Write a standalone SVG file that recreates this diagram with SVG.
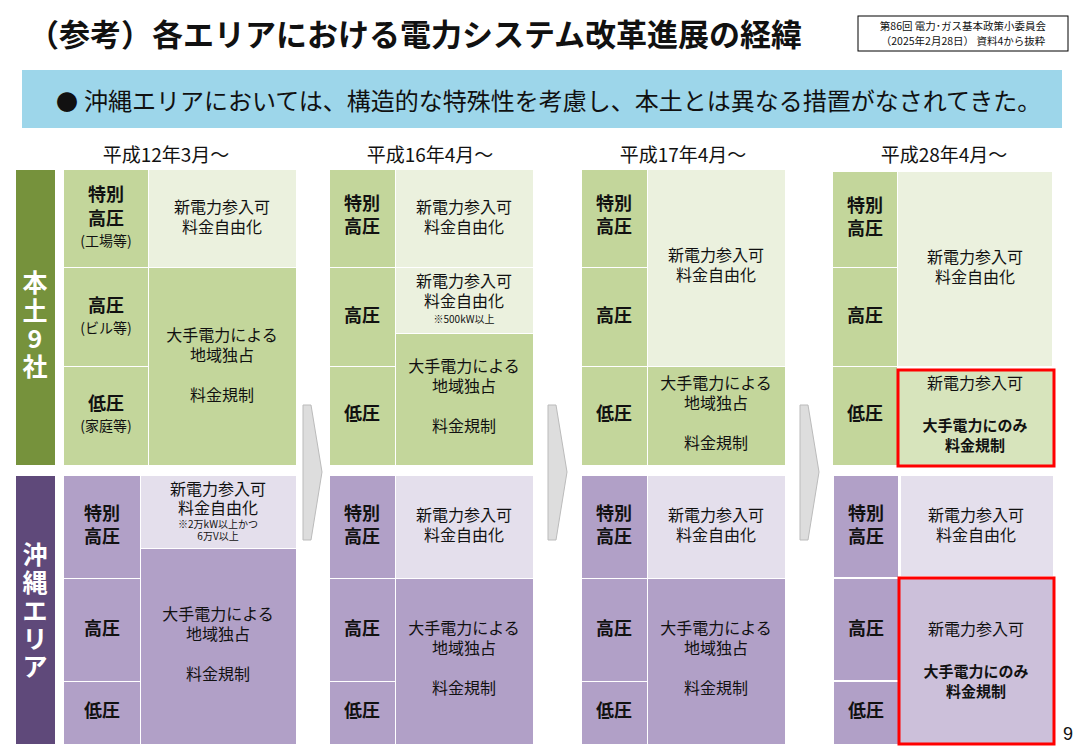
<svg xmlns="http://www.w3.org/2000/svg" width="1084" height="750" viewBox="0 0 1084 750">
<style>
text{font-family:"Noto Sans CJK JP","Noto Sans",sans-serif;fill:#111;text-anchor:middle}
.lb{font-size:18px;font-weight:bold}
.sm{font-size:14px}
.c{font-size:16px}
.n{font-size:10px}
.b{font-size:15px;font-weight:bold}
.hd{font-size:19px}
.gl{fill:#C3D69B}.ge{fill:#EBF1DE}.pl{fill:#B1A0C7}.pe{fill:#E4DFEC}
.side{font-size:25px;font-weight:bold;fill:#fff}
.chev{fill:#DDDDDD;stroke:#BBBBBB;stroke-width:1}
</style>
<rect width="1084" height="750" fill="#fff"/>
<text x="415" y="46" style="font-size:31px;font-weight:bold">（参考）各エリアにおける電力システム改革進展の経緯</text>
<g id="source"><rect x="858" y="16" width="210" height="35" fill="#fff" stroke="#000" stroke-width="1"/>
<text x="963" y="30" style="font-size:10.5px">第86回 電力･ガス基本政策小委員会</text>
<text x="963" y="45" style="font-size:10.5px">（2025年2月28日） 資料4から抜粋</text></g>
<g id="banner"><rect x="22" y="70" width="1040" height="58" fill="#9DD6EA"/>
<text x="56" y="110" style="font-size:22px;text-anchor:start">●</text>
<text x="84" y="110" style="font-size:24px;text-anchor:start">沖縄エリアにおいては、構造的な特殊性を考慮し、本土とは異なる措置がなされてきた。</text></g>
<g id="headers">
<text class="hd" x="166" y="162">平成12年3月～</text>
<text class="hd" x="430" y="162">平成16年4月～</text>
<text class="hd" x="683" y="162">平成17年4月～</text>
<text class="hd" x="944" y="162">平成28年4月～</text></g>
<g id="side-honshu"><rect x="16" y="170" width="39" height="295" fill="#76923C"/>
<text class="side" x="35" y="292">本</text><text class="side" x="35" y="320">土</text><text class="side" x="35" y="348">9</text><text class="side" x="35" y="376">社</text></g>
<g id="side-okinawa"><rect x="16" y="476" width="39" height="268" fill="#5F497A"/>
<text class="side" x="35" y="564">沖</text><text class="side" x="35" y="592">縄</text><text class="side" x="35" y="620">エ</text><text class="side" x="35" y="648">リ</text><text class="side" x="35" y="676">ア</text></g>
<g id="connectors">
<path class="chev" d="M303,405 L311,405 L322,472 L311,540 L303,540 Z"/>
<path class="chev" d="M548,405 L556,405 L567,472 L556,540 L548,540 Z"/>
<path class="chev" d="M800,405 L808,405 L819,472 L808,540 L800,540 Z"/>
</g>
<g id="col1">
<rect class="gl" x="64" y="170" width="84" height="97"/><rect class="ge" x="149" y="170" width="147" height="97"/>
<rect class="gl" x="64" y="268" width="84" height="98"/><rect class="gl" x="64" y="367" width="84" height="98"/>
<rect class="gl" x="149" y="268" width="147" height="197"/>
<text class="lb" x="106" y="201">特別</text><text class="lb" x="106" y="225">高圧</text><text class="sm" x="106" y="246">(工場等)</text>
<text class="c" x="222" y="213">新電力参入可</text><text class="c" x="222" y="233">料金自由化</text>
<text class="lb" x="106" y="312">高圧</text><text class="sm" x="106" y="333">(ビル等)</text>
<text class="lb" x="106" y="410">低圧</text><text class="sm" x="106" y="431">(家庭等)</text>
<text class="c" x="222" y="341">大手電力による</text><text class="c" x="222" y="361">地域独占</text><text class="c" x="222" y="401">料金規制</text>
<rect class="pl" x="64" y="476" width="76" height="102"/><rect class="pl" x="64" y="579" width="76" height="102"/><rect class="pl" x="64" y="682" width="76" height="62"/>
<rect class="pe" x="141" y="476" width="155" height="72"/><rect class="pl" x="141" y="549" width="155" height="195"/>
<text class="lb" x="102" y="520">特別</text><text class="lb" x="102" y="543">高圧</text>
<text class="c" x="218" y="495">新電力参入可</text><text class="c" x="218" y="514">料金自由化</text>
<text class="n" x="218" y="528">※2万kW以上かつ</text><text class="n" x="218" y="540">6万V以上</text>
<text class="lb" x="102" y="635">高圧</text><text class="lb" x="102" y="717">低圧</text>
<text class="c" x="218" y="620">大手電力による</text><text class="c" x="218" y="640">地域独占</text><text class="c" x="218" y="680">料金規制</text>
</g>
<g id="col2">
<rect class="gl" x="330" y="170" width="65" height="97"/><rect class="gl" x="330" y="268" width="65" height="98"/><rect class="gl" x="330" y="367" width="65" height="98"/>
<rect class="ge" x="396" y="170" width="137" height="97"/><rect class="ge" x="396" y="268" width="137" height="65"/><rect class="gl" x="396" y="334" width="137" height="131"/>
<text class="lb" x="362" y="210">特別</text><text class="lb" x="362" y="233">高圧</text>
<text class="c" x="464" y="213">新電力参入可</text><text class="c" x="464" y="233">料金自由化</text>
<text class="lb" x="362" y="322">高圧</text>
<text class="c" x="464" y="287">新電力参入可</text><text class="c" x="464" y="307">料金自由化</text><text class="n" x="464" y="323">※500kW以上</text>
<text class="lb" x="362" y="420">低圧</text>
<text class="c" x="464" y="372">大手電力による</text><text class="c" x="464" y="392">地域独占</text><text class="c" x="464" y="432">料金規制</text>
<rect class="pl" x="330" y="476" width="65" height="102"/><rect class="pl" x="330" y="579" width="65" height="102"/><rect class="pl" x="330" y="682" width="65" height="62"/>
<rect class="pe" x="396" y="476" width="137" height="102"/><rect class="pl" x="396" y="579" width="137" height="165"/>
<text class="lb" x="362" y="520">特別</text><text class="lb" x="362" y="543">高圧</text>
<text class="c" x="464" y="521">新電力参入可</text><text class="c" x="464" y="541">料金自由化</text>
<text class="lb" x="362" y="635">高圧</text><text class="lb" x="362" y="717">低圧</text>
<text class="c" x="464" y="634">大手電力による</text><text class="c" x="464" y="654">地域独占</text><text class="c" x="464" y="694">料金規制</text>
</g>
<g id="col3">
<rect class="gl" x="582" y="170" width="65" height="97"/><rect class="gl" x="582" y="268" width="65" height="98"/><rect class="gl" x="582" y="367" width="65" height="98"/>
<rect class="ge" x="648" y="170" width="137" height="196"/><rect class="gl" x="648" y="367" width="137" height="98"/>
<text class="lb" x="614" y="210">特別</text><text class="lb" x="614" y="233">高圧</text>
<text class="c" x="716" y="261">新電力参入可</text><text class="c" x="716" y="281">料金自由化</text>
<text class="lb" x="614" y="322">高圧</text><text class="lb" x="614" y="420">低圧</text>
<text class="c" x="716" y="389">大手電力による</text><text class="c" x="716" y="409">地域独占</text><text class="c" x="716" y="449">料金規制</text>
<rect class="pl" x="582" y="476" width="65" height="102"/><rect class="pl" x="582" y="579" width="65" height="102"/><rect class="pl" x="582" y="682" width="65" height="62"/>
<rect class="pe" x="648" y="476" width="137" height="102"/><rect class="pl" x="648" y="579" width="137" height="165"/>
<text class="lb" x="614" y="520">特別</text><text class="lb" x="614" y="543">高圧</text>
<text class="c" x="716" y="521">新電力参入可</text><text class="c" x="716" y="541">料金自由化</text>
<text class="lb" x="614" y="635">高圧</text><text class="lb" x="614" y="717">低圧</text>
<text class="c" x="716" y="634">大手電力による</text><text class="c" x="716" y="654">地域独占</text><text class="c" x="716" y="694">料金規制</text>
</g>
<g id="col4">
<rect class="gl" x="833" y="172" width="64" height="95"/><rect class="gl" x="833" y="268" width="64" height="98"/><rect class="gl" x="833" y="367" width="64" height="98"/>
<rect class="ge" x="898" y="172" width="154" height="194"/>
<rect x="898" y="370" width="156" height="96" fill="#D7E4BC" stroke="#FF0000" stroke-width="3"/>
<text class="lb" x="865" y="212">特別</text><text class="lb" x="865" y="235">高圧</text>
<text class="c" x="975" y="263">新電力参入可</text><text class="c" x="975" y="283">料金自由化</text>
<text class="lb" x="865" y="322">高圧</text><text class="lb" x="865" y="420">低圧</text>
<text class="c" x="975" y="389">新電力参入可</text><text class="b" x="975" y="431">大手電力にのみ</text><text class="b" x="975" y="451">料金規制</text>
<rect class="pl" x="834" y="476" width="64" height="101"/><rect class="pl" x="834" y="579" width="64" height="101"/><rect class="pl" x="834" y="682" width="64" height="62"/>
<rect class="pe" x="901" y="476" width="152" height="100"/>
<rect x="899" y="578" width="155" height="166" fill="#CCC0DA" stroke="#FF0000" stroke-width="3"/>
<text class="lb" x="866" y="520">特別</text><text class="lb" x="866" y="543">高圧</text>
<text class="c" x="976" y="521">新電力参入可</text><text class="c" x="976" y="541">料金自由化</text>
<text class="lb" x="866" y="635">高圧</text><text class="lb" x="866" y="717">低圧</text>
<text class="c" x="976" y="635">新電力参入可</text><text class="b" x="976" y="677">大手電力にのみ</text><text class="b" x="976" y="697">料金規制</text>
</g>
<text x="1068" y="740" style="font-size:18px;font-family:'Liberation Sans',sans-serif">9</text>
</svg>
